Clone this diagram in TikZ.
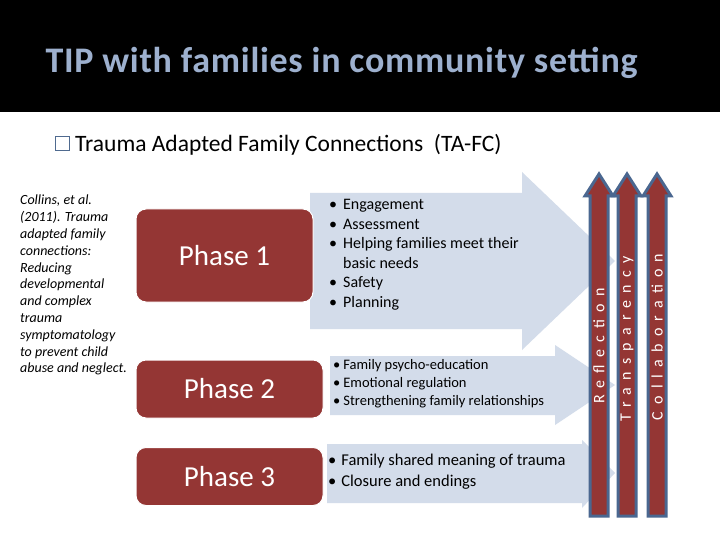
\documentclass[tikz,border=0pt]{standalone}
\usepackage{fontspec}
\setmainfont{Carlito}
\definecolor{band}{HTML}{000000}
\definecolor{titlec}{HTML}{9DB0CE}
\definecolor{phase}{HTML}{943634}
\definecolor{arr}{HTML}{D3DCEA}
\definecolor{vblue}{HTML}{4A6790}
\definecolor{sqc}{HTML}{4F6A8F}
\begin{document}
\begin{tikzpicture}[x=1pt,y=-1pt,
  phasebox/.style={fill=phase,draw=white,line width=1pt,rounded corners=10pt,text=white,font=\fontsize{29}{32}\selectfont},
  bigarrow/.style={fill=arr,draw=none},
  varrow/.style={fill=phase,draw=vblue,line width=3pt,line join=miter},
  vlabel/.style={rotate=90,text=white,font=\fontsize{16}{18}\selectfont\addfontfeature{LetterSpace=45}},
  items/.style={align=left,anchor=north west,inner sep=0pt}]
\useasboundingbox (0,0) rectangle (720,540);
\fill[white] (0,0) rectangle (720,540);
\fill[band] (0,0) rectangle (720,112);
\node[anchor=west,text=titlec,font=\fontsize{36}{40}\selectfont\bfseries\addfontfeature{LetterSpace=2}] (title) at (42,63) {TIP with families in community setting};
\draw[sqc,line width=1pt] (55,137) rectangle (69,151);
\node[anchor=west,font=\fontsize{23.5}{26}\selectfont,inner sep=0pt] (sub) at (75,145) {Trauma Adapted Family Connections\ \ (TA-FC)};
\node[items,font=\fontsize{14}{16.8}\selectfont\itshape] (ref) at (20,195) {Collins, et al.\\(2011). Trauma\\adapted family\\connections:\\Reducing\\developmental\\and complex\\trauma\\symptomatology\\to prevent child\\abuse and neglect.};
% big arrows
\fill[bigarrow] (310,193) -- (522,193) -- (522,172) -- (615,261) -- (522,350) -- (522,329) -- (310,329) -- cycle;
\fill[bigarrow] (330,356) -- (555,356) -- (555,345) -- (615,385) -- (555,425) -- (555,415) -- (330,415) -- cycle;
\fill[bigarrow] (327,444) -- (582,444) -- (582,440) -- (615,473) -- (582,508) -- (582,503) -- (327,503) -- cycle;
% phase boxes
\node[phasebox,minimum width=177pt,minimum height=93pt] (p1) at (224.5,255.5) {Phase 1};
\node[phasebox,minimum width=187pt,minimum height=58pt] (p2) at (229.5,389) {Phase 2};
\node[phasebox,minimum width=187pt,minimum height=58pt] (p3) at (229.5,476.5) {Phase 3};
\node[items,font=\fontsize{16}{19.5}\selectfont] (l1) at (329,196) {%
\begin{tabular}{@{}l@{\hspace{6pt}}l@{}}
\textbullet & Engagement\\
\textbullet & Assessment\\
\textbullet & Helping families meet their\\
 & basic needs\\
\textbullet & Safety\\
\textbullet & Planning
\end{tabular}};
\node[items,font=\fontsize{14.5}{18}\selectfont] (l2) at (333,357) {%
\begin{tabular}{@{}l@{\hspace{3pt}}l@{}}
\textbullet & Family psycho-education\\
\textbullet & Emotional regulation\\
\textbullet & Strengthening family relationships
\end{tabular}};
\node[items,font=\fontsize{16.5}{21}\selectfont] (l3) at (328,451) {%
\begin{tabular}{@{}l@{\hspace{5pt}}l@{}}
\textbullet & Family shared meaning of trauma\\
\textbullet & Closure and endings
\end{tabular}};
% vertical arrows
\foreach \cx/\nm in {599/a,627/b,657/c}{
  \draw[varrow] (\cx-9,516) -- (\cx-9,196) -- (\cx-14,196) -- (\cx,174) -- (\cx+14,196) -- (\cx+9,196) -- (\cx+9,516) -- cycle;
}
\node[vlabel] (r) at (599,346) {Reflection};
\node[vlabel] (t) at (627,339) {Transparency};
\node[vlabel] (c) at (657,337) {Collaboration};
\end{tikzpicture}
\end{document}
